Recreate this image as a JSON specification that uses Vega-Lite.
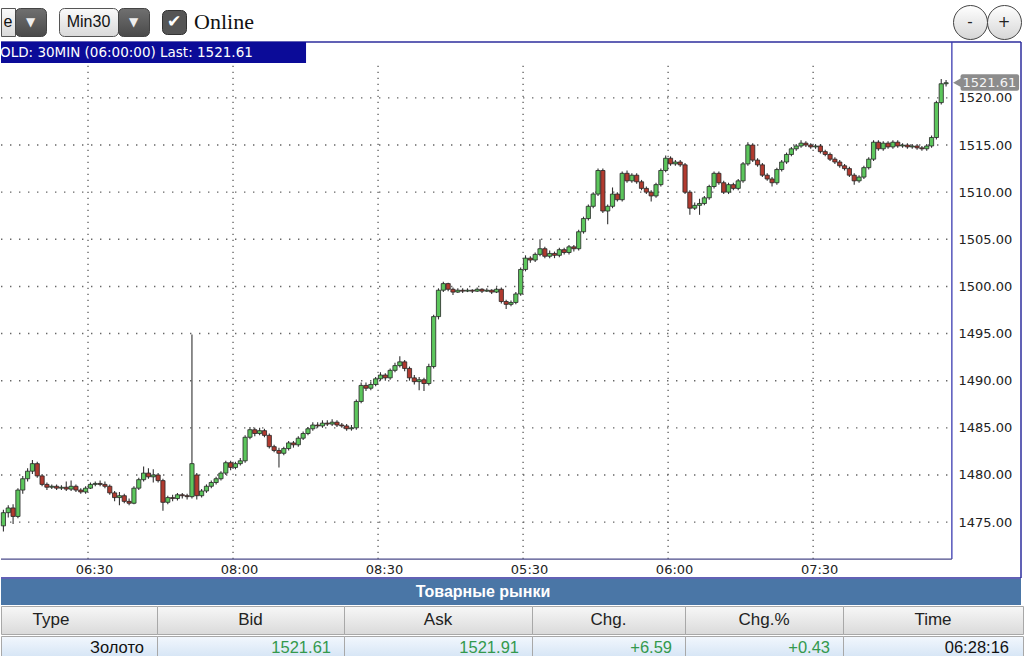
{
"$schema":"https://vega.github.io/schema/vega-lite/v6.json",
"padding":0,
"background":"white",
"bounds":"full",
"spacing":0,
"config":{"view":{"stroke":null},"concat":{"spacing":0},"text":{"font":"DejaVu Sans"},"axis":{"labelFont":"DejaVu Sans"}},
"datasets":{
"blank":[{}],
"quote":[{"Type":"Золото","Bid":"1521.61","Ask":"1521.91","Chg":"+6.59","ChgPct":"+0.43","Time":"06:28:16"}],
"candles":[
{"i":0,"o":1474.6,"h":1476.3,"l":1474.0,"c":1476.0},
{"i":1,"o":1476.0,"h":1476.8,"l":1475.5,"c":1476.5},
{"i":2,"o":1476.5,"h":1476.9,"l":1474.8,"c":1475.6},
{"i":3,"o":1475.6,"h":1478.6,"l":1475.4,"c":1478.4},
{"i":4,"o":1478.4,"h":1479.9,"l":1478.0,"c":1479.6},
{"i":5,"o":1479.6,"h":1480.7,"l":1479.3,"c":1480.4},
{"i":6,"o":1480.4,"h":1481.6,"l":1480.1,"c":1481.2},
{"i":7,"o":1481.2,"h":1481.4,"l":1479.7,"c":1479.9},
{"i":8,"o":1479.9,"h":1480.1,"l":1478.8,"c":1479.0},
{"i":9,"o":1479.0,"h":1479.2,"l":1478.4,"c":1478.7},
{"i":10,"o":1478.7,"h":1479.0,"l":1478.5,"c":1478.8},
{"i":11,"o":1478.8,"h":1479.0,"l":1478.4,"c":1478.6},
{"i":12,"o":1478.6,"h":1478.9,"l":1478.4,"c":1478.7},
{"i":13,"o":1478.7,"h":1479.3,"l":1478.3,"c":1478.5},
{"i":14,"o":1478.5,"h":1479.4,"l":1478.3,"c":1478.8},
{"i":15,"o":1478.8,"h":1479.0,"l":1478.2,"c":1478.4},
{"i":16,"o":1478.4,"h":1478.6,"l":1478.0,"c":1478.2},
{"i":17,"o":1478.2,"h":1478.8,"l":1478.0,"c":1478.6},
{"i":18,"o":1478.6,"h":1479.2,"l":1478.5,"c":1479.0},
{"i":19,"o":1479.0,"h":1479.3,"l":1478.8,"c":1479.1},
{"i":20,"o":1479.1,"h":1479.4,"l":1478.8,"c":1479.0},
{"i":21,"o":1479.0,"h":1479.3,"l":1478.6,"c":1478.8},
{"i":22,"o":1478.8,"h":1479.0,"l":1477.9,"c":1478.1},
{"i":23,"o":1478.1,"h":1478.3,"l":1477.2,"c":1477.6},
{"i":24,"o":1477.6,"h":1478.2,"l":1476.8,"c":1477.8},
{"i":25,"o":1477.8,"h":1478.0,"l":1477.0,"c":1477.2},
{"i":26,"o":1477.2,"h":1477.5,"l":1476.8,"c":1477.0},
{"i":27,"o":1477.0,"h":1478.8,"l":1476.9,"c":1478.6},
{"i":28,"o":1478.6,"h":1479.7,"l":1478.4,"c":1479.5},
{"i":29,"o":1479.5,"h":1480.9,"l":1479.3,"c":1480.2},
{"i":30,"o":1480.2,"h":1480.7,"l":1479.6,"c":1479.8},
{"i":31,"o":1479.8,"h":1480.6,"l":1479.2,"c":1480.0},
{"i":32,"o":1480.0,"h":1480.2,"l":1479.2,"c":1479.4},
{"i":33,"o":1479.4,"h":1479.6,"l":1476.2,"c":1477.1},
{"i":34,"o":1477.1,"h":1477.8,"l":1476.9,"c":1477.6},
{"i":35,"o":1477.6,"h":1477.9,"l":1477.2,"c":1477.5},
{"i":36,"o":1477.5,"h":1478.1,"l":1477.3,"c":1477.9},
{"i":37,"o":1477.9,"h":1478.1,"l":1477.5,"c":1477.8},
{"i":38,"o":1477.8,"h":1478.0,"l":1477.4,"c":1477.7},
{"i":39,"o":1477.7,"h":1494.9,"l":1477.5,"c":1481.2},
{"i":40,"o":1480.0,"h":1480.2,"l":1477.4,"c":1477.8},
{"i":41,"o":1477.8,"h":1478.5,"l":1477.6,"c":1478.3},
{"i":42,"o":1478.3,"h":1479.0,"l":1478.1,"c":1478.8},
{"i":43,"o":1478.8,"h":1479.4,"l":1478.6,"c":1479.2},
{"i":44,"o":1479.2,"h":1479.8,"l":1479.0,"c":1479.6},
{"i":45,"o":1479.6,"h":1480.4,"l":1479.4,"c":1480.2},
{"i":46,"o":1480.2,"h":1481.5,"l":1480.0,"c":1481.3},
{"i":47,"o":1481.3,"h":1481.5,"l":1480.5,"c":1480.8},
{"i":48,"o":1480.8,"h":1481.4,"l":1480.6,"c":1481.2},
{"i":49,"o":1481.2,"h":1481.8,"l":1481.0,"c":1481.5},
{"i":50,"o":1481.5,"h":1484.2,"l":1481.3,"c":1484.0},
{"i":51,"o":1484.0,"h":1485.1,"l":1483.8,"c":1484.8},
{"i":52,"o":1484.8,"h":1485.0,"l":1484.1,"c":1484.4},
{"i":53,"o":1484.4,"h":1485.0,"l":1484.2,"c":1484.7},
{"i":54,"o":1484.7,"h":1484.9,"l":1484.0,"c":1484.2},
{"i":55,"o":1484.2,"h":1484.4,"l":1482.8,"c":1483.0},
{"i":56,"o":1483.0,"h":1483.2,"l":1482.4,"c":1482.6},
{"i":57,"o":1482.6,"h":1482.9,"l":1480.8,"c":1482.3},
{"i":58,"o":1482.3,"h":1483.0,"l":1482.1,"c":1482.8},
{"i":59,"o":1482.8,"h":1483.6,"l":1482.6,"c":1483.4},
{"i":60,"o":1483.4,"h":1483.6,"l":1482.9,"c":1483.2},
{"i":61,"o":1483.2,"h":1484.1,"l":1483.0,"c":1483.9},
{"i":62,"o":1483.9,"h":1484.6,"l":1483.7,"c":1484.4},
{"i":63,"o":1484.4,"h":1485.1,"l":1484.2,"c":1484.9},
{"i":64,"o":1484.9,"h":1485.6,"l":1484.7,"c":1485.3},
{"i":65,"o":1485.3,"h":1485.6,"l":1485.0,"c":1485.2},
{"i":66,"o":1485.2,"h":1485.8,"l":1485.0,"c":1485.5},
{"i":67,"o":1485.5,"h":1485.8,"l":1485.2,"c":1485.4},
{"i":68,"o":1485.4,"h":1485.9,"l":1485.2,"c":1485.6},
{"i":69,"o":1485.6,"h":1485.8,"l":1485.1,"c":1485.3},
{"i":70,"o":1485.3,"h":1485.5,"l":1485.0,"c":1485.2},
{"i":71,"o":1485.2,"h":1485.4,"l":1484.7,"c":1484.9},
{"i":72,"o":1484.9,"h":1485.3,"l":1484.7,"c":1485.0},
{"i":73,"o":1485.0,"h":1488.0,"l":1484.8,"c":1487.8},
{"i":74,"o":1487.8,"h":1489.8,"l":1487.6,"c":1489.5},
{"i":75,"o":1489.5,"h":1489.8,"l":1488.9,"c":1489.2},
{"i":76,"o":1489.2,"h":1489.9,"l":1489.0,"c":1489.6},
{"i":77,"o":1489.6,"h":1490.4,"l":1489.4,"c":1490.2},
{"i":78,"o":1490.2,"h":1490.9,"l":1490.0,"c":1490.6},
{"i":79,"o":1490.6,"h":1490.8,"l":1490.0,"c":1490.3},
{"i":80,"o":1490.3,"h":1491.3,"l":1490.1,"c":1491.1},
{"i":81,"o":1491.1,"h":1491.9,"l":1490.9,"c":1491.6},
{"i":82,"o":1491.6,"h":1492.6,"l":1491.4,"c":1492.0},
{"i":83,"o":1492.0,"h":1492.2,"l":1491.0,"c":1491.3},
{"i":84,"o":1491.3,"h":1491.5,"l":1490.0,"c":1490.3},
{"i":85,"o":1490.3,"h":1490.6,"l":1489.6,"c":1489.9},
{"i":86,"o":1489.9,"h":1490.4,"l":1489.0,"c":1490.1},
{"i":87,"o":1490.1,"h":1490.3,"l":1488.9,"c":1489.7},
{"i":88,"o":1489.7,"h":1491.8,"l":1489.5,"c":1491.5},
{"i":89,"o":1491.5,"h":1497.0,"l":1491.3,"c":1496.8},
{"i":90,"o":1496.8,"h":1499.8,"l":1496.5,"c":1499.6},
{"i":91,"o":1499.6,"h":1500.5,"l":1499.4,"c":1500.3},
{"i":92,"o":1500.3,"h":1500.4,"l":1499.5,"c":1499.7},
{"i":93,"o":1499.7,"h":1499.9,"l":1499.1,"c":1499.4},
{"i":94,"o":1499.4,"h":1499.8,"l":1499.3,"c":1499.6},
{"i":95,"o":1499.6,"h":1499.8,"l":1499.3,"c":1499.5},
{"i":96,"o":1499.5,"h":1499.8,"l":1499.4,"c":1499.6},
{"i":97,"o":1499.6,"h":1499.7,"l":1499.3,"c":1499.5},
{"i":98,"o":1499.5,"h":1499.9,"l":1499.4,"c":1499.7},
{"i":99,"o":1499.7,"h":1499.8,"l":1499.3,"c":1499.5},
{"i":100,"o":1499.5,"h":1499.8,"l":1499.4,"c":1499.6},
{"i":101,"o":1499.6,"h":1499.7,"l":1499.2,"c":1499.4},
{"i":102,"o":1499.4,"h":1499.9,"l":1499.3,"c":1499.7},
{"i":103,"o":1499.7,"h":1499.9,"l":1498.2,"c":1498.4},
{"i":104,"o":1498.4,"h":1498.6,"l":1497.6,"c":1498.1},
{"i":105,"o":1498.1,"h":1498.5,"l":1497.9,"c":1498.3},
{"i":106,"o":1498.3,"h":1499.4,"l":1498.1,"c":1499.2},
{"i":107,"o":1499.2,"h":1502.0,"l":1499.0,"c":1501.8},
{"i":108,"o":1501.8,"h":1503.3,"l":1501.6,"c":1503.0},
{"i":109,"o":1503.0,"h":1503.2,"l":1502.5,"c":1502.8},
{"i":110,"o":1502.8,"h":1503.6,"l":1502.6,"c":1503.4},
{"i":111,"o":1503.4,"h":1505.0,"l":1503.2,"c":1504.0},
{"i":112,"o":1504.0,"h":1504.2,"l":1503.0,"c":1503.2},
{"i":113,"o":1503.2,"h":1503.8,"l":1503.0,"c":1503.5},
{"i":114,"o":1503.5,"h":1503.7,"l":1503.0,"c":1503.3},
{"i":115,"o":1503.3,"h":1504.1,"l":1503.1,"c":1503.9},
{"i":116,"o":1503.9,"h":1504.1,"l":1503.4,"c":1503.6},
{"i":117,"o":1503.6,"h":1504.4,"l":1503.4,"c":1504.2},
{"i":118,"o":1504.2,"h":1504.4,"l":1503.7,"c":1504.0},
{"i":119,"o":1504.0,"h":1506.0,"l":1503.8,"c":1505.8},
{"i":120,"o":1505.8,"h":1507.4,"l":1505.6,"c":1507.2},
{"i":121,"o":1507.2,"h":1508.7,"l":1507.0,"c":1508.5},
{"i":122,"o":1508.5,"h":1510.0,"l":1508.3,"c":1509.8},
{"i":123,"o":1509.8,"h":1512.5,"l":1509.6,"c":1512.3},
{"i":124,"o":1512.3,"h":1512.5,"l":1507.8,"c":1508.0},
{"i":125,"o":1508.0,"h":1508.7,"l":1506.6,"c":1508.5},
{"i":126,"o":1508.5,"h":1510.5,"l":1508.3,"c":1509.8},
{"i":127,"o":1509.8,"h":1510.0,"l":1509.0,"c":1509.2},
{"i":128,"o":1509.2,"h":1512.2,"l":1509.0,"c":1512.0},
{"i":129,"o":1512.0,"h":1512.3,"l":1511.0,"c":1511.2},
{"i":130,"o":1511.2,"h":1512.0,"l":1511.0,"c":1511.8},
{"i":131,"o":1511.8,"h":1512.0,"l":1510.9,"c":1511.1},
{"i":132,"o":1511.1,"h":1511.3,"l":1510.2,"c":1510.4},
{"i":133,"o":1510.4,"h":1510.6,"l":1509.8,"c":1510.0},
{"i":134,"o":1510.0,"h":1510.2,"l":1509.0,"c":1509.6},
{"i":135,"o":1509.6,"h":1511.0,"l":1509.4,"c":1510.8},
{"i":136,"o":1510.8,"h":1512.5,"l":1510.6,"c":1512.3},
{"i":137,"o":1512.3,"h":1513.9,"l":1512.1,"c":1513.6},
{"i":138,"o":1513.6,"h":1513.8,"l":1512.8,"c":1513.0},
{"i":139,"o":1513.0,"h":1513.4,"l":1512.8,"c":1513.2},
{"i":140,"o":1513.2,"h":1513.4,"l":1512.7,"c":1512.9},
{"i":141,"o":1512.9,"h":1513.1,"l":1509.8,"c":1510.0},
{"i":142,"o":1510.0,"h":1510.2,"l":1507.6,"c":1508.3},
{"i":143,"o":1508.3,"h":1508.9,"l":1508.1,"c":1508.6},
{"i":144,"o":1508.6,"h":1509.3,"l":1507.6,"c":1508.8},
{"i":145,"o":1508.8,"h":1509.6,"l":1508.6,"c":1509.4},
{"i":146,"o":1509.4,"h":1510.8,"l":1509.2,"c":1510.6},
{"i":147,"o":1510.6,"h":1512.2,"l":1510.4,"c":1512.0},
{"i":148,"o":1512.0,"h":1512.2,"l":1510.8,"c":1511.0},
{"i":149,"o":1511.0,"h":1511.2,"l":1509.8,"c":1510.0},
{"i":150,"o":1510.0,"h":1511.0,"l":1509.8,"c":1510.8},
{"i":151,"o":1510.8,"h":1511.0,"l":1510.2,"c":1510.4},
{"i":152,"o":1510.4,"h":1511.4,"l":1510.2,"c":1511.2},
{"i":153,"o":1511.2,"h":1513.2,"l":1511.0,"c":1513.0},
{"i":154,"o":1513.0,"h":1515.3,"l":1512.8,"c":1515.0},
{"i":155,"o":1515.0,"h":1515.2,"l":1513.2,"c":1513.4},
{"i":156,"o":1513.4,"h":1513.6,"l":1512.7,"c":1512.9},
{"i":157,"o":1512.9,"h":1513.1,"l":1511.6,"c":1511.8},
{"i":158,"o":1511.8,"h":1512.0,"l":1511.2,"c":1511.4},
{"i":159,"o":1511.4,"h":1511.6,"l":1510.6,"c":1511.0},
{"i":160,"o":1511.0,"h":1512.6,"l":1510.8,"c":1512.4},
{"i":161,"o":1512.4,"h":1513.4,"l":1512.2,"c":1513.2},
{"i":162,"o":1513.2,"h":1514.2,"l":1513.0,"c":1514.0},
{"i":163,"o":1514.0,"h":1514.8,"l":1513.8,"c":1514.6},
{"i":164,"o":1514.6,"h":1515.1,"l":1514.4,"c":1514.9},
{"i":165,"o":1514.9,"h":1515.5,"l":1514.7,"c":1515.2},
{"i":166,"o":1515.2,"h":1515.4,"l":1514.8,"c":1515.0},
{"i":167,"o":1515.0,"h":1515.2,"l":1514.6,"c":1514.8},
{"i":168,"o":1514.8,"h":1515.1,"l":1514.6,"c":1514.9},
{"i":169,"o":1514.9,"h":1515.1,"l":1514.1,"c":1514.3},
{"i":170,"o":1514.3,"h":1514.5,"l":1513.8,"c":1514.0},
{"i":171,"o":1514.0,"h":1514.2,"l":1513.3,"c":1513.5},
{"i":172,"o":1513.5,"h":1513.7,"l":1513.0,"c":1513.2},
{"i":173,"o":1513.2,"h":1513.4,"l":1512.6,"c":1512.8},
{"i":174,"o":1512.8,"h":1513.0,"l":1512.3,"c":1512.5},
{"i":175,"o":1512.5,"h":1512.7,"l":1511.6,"c":1511.8},
{"i":176,"o":1511.8,"h":1512.0,"l":1510.8,"c":1511.2},
{"i":177,"o":1511.2,"h":1511.8,"l":1511.0,"c":1511.6},
{"i":178,"o":1511.6,"h":1512.8,"l":1511.4,"c":1512.6},
{"i":179,"o":1512.6,"h":1513.7,"l":1512.4,"c":1513.5},
{"i":180,"o":1513.5,"h":1515.5,"l":1513.3,"c":1515.3},
{"i":181,"o":1515.3,"h":1515.5,"l":1514.4,"c":1514.6},
{"i":182,"o":1514.6,"h":1515.4,"l":1514.4,"c":1515.2},
{"i":183,"o":1515.2,"h":1515.4,"l":1514.6,"c":1514.8},
{"i":184,"o":1514.8,"h":1515.5,"l":1514.6,"c":1515.3},
{"i":185,"o":1515.3,"h":1515.5,"l":1514.7,"c":1514.9},
{"i":186,"o":1514.9,"h":1515.2,"l":1514.7,"c":1515.0},
{"i":187,"o":1515.0,"h":1515.2,"l":1514.6,"c":1514.8},
{"i":188,"o":1514.8,"h":1515.1,"l":1514.6,"c":1514.9},
{"i":189,"o":1514.9,"h":1515.1,"l":1514.5,"c":1514.7},
{"i":190,"o":1514.7,"h":1514.9,"l":1514.4,"c":1514.6},
{"i":191,"o":1514.6,"h":1515.1,"l":1514.4,"c":1514.9},
{"i":192,"o":1514.9,"h":1516.0,"l":1514.7,"c":1515.8},
{"i":193,"o":1515.8,"h":1519.7,"l":1515.6,"c":1519.5},
{"i":194,"o":1519.5,"h":1522.0,"l":1519.3,"c":1521.5},
{"i":195,"o":1521.5,"h":1521.9,"l":1521.2,"c":1521.61}
]},
"vconcat":[
{"width":1020,"height":3,"data":{"values":[{"t":""}]},"view":{"fill":"white"},"mark":{"type":"text","fontSize":1},"encoding":{"text":{"field":"t","type":"nominal"}}},
{"hconcat":[
 {"width":14,"height":28,"data":{"values":[{"t":"e"}]},"view":{"fill":{"gradient":"linear","x1":0,"y1":0,"x2":0,"y2":1,"stops":[{"offset":0,"color":"#fafafa"},{"offset":1,"color":"#d9d9d9"}]},"stroke":"#555"},"mark":{"type":"text","fontSize":16,"font":"Liberation Sans","fill":"#111"},"encoding":{"text":{"field":"t","type":"nominal"}}},
 {"width":31,"height":28,"data":{"values":[{"t":"▼"}]},"view":{"fill":{"gradient":"linear","x1":0,"y1":0,"x2":0,"y2":1,"stops":[{"offset":0,"color":"#707070"},{"offset":1,"color":"#4a4a4a"}]},"stroke":"#444","cornerRadius":5},"mark":{"type":"text","fontSize":12,"fill":"#eeeeee"},"encoding":{"text":{"field":"t","type":"nominal"}}},
 {"width":13,"height":28,"data":{"values":[{"t":""}]},"mark":{"type":"text","fontSize":1},"encoding":{"text":{"field":"t","type":"nominal"}}},
 {"width":59,"height":28,"data":{"values":[{"t":"Min30"}]},"view":{"fill":{"gradient":"linear","x1":0,"y1":0,"x2":0,"y2":1,"stops":[{"offset":0,"color":"#fafafa"},{"offset":1,"color":"#d9d9d9"}]},"stroke":"#555","cornerRadius":5},"mark":{"type":"text","fontSize":16,"font":"Liberation Sans","fill":"#111"},"encoding":{"text":{"field":"t","type":"nominal"}}},
 {"width":31,"height":28,"data":{"values":[{"t":"▼"}]},"view":{"fill":{"gradient":"linear","x1":0,"y1":0,"x2":0,"y2":1,"stops":[{"offset":0,"color":"#707070"},{"offset":1,"color":"#4a4a4a"}]},"stroke":"#444","cornerRadius":5},"mark":{"type":"text","fontSize":12,"fill":"#eeeeee"},"encoding":{"text":{"field":"t","type":"nominal"}}},
 {"width":13,"height":28,"data":{"values":[{"t":""}]},"mark":{"type":"text","fontSize":1},"encoding":{"text":{"field":"t","type":"nominal"}}},
 {"width":24,"height":24,"data":{"values":[{"t":"✔"}]},"view":{"fill":"#555555","stroke":"#333","cornerRadius":5},"mark":{"type":"text","fontSize":17,"fill":"white"},"encoding":{"text":{"field":"t","type":"nominal"}}},
 {"width":5,"height":28,"data":{"values":[{"t":""}]},"mark":{"type":"text","fontSize":1},"encoding":{"text":{"field":"t","type":"nominal"}}},
 {"width":66,"height":36,"data":{"values":[{"t":"Online"}]},"mark":{"type":"text","fontSize":22,"font":"Liberation Serif","fill":"#111"},"encoding":{"text":{"field":"t","type":"nominal"}}},
 {"width":696,"height":38,"data":{"values":[{"t":""}]},"view":{"fill":"white"},"mark":{"type":"text","fontSize":1},"encoding":{"text":{"field":"t","type":"nominal"}}},
 {"width":34,"height":34,"data":{"values":[{"t":"-"}]},"view":{"fill":{"gradient":"linear","x1":0,"y1":0,"x2":0,"y2":1,"stops":[{"offset":0,"color":"#ffffff"},{"offset":1,"color":"#d6d6d6"}]},"stroke":"#444","cornerRadius":17},"mark":{"type":"text","fontSize":15,"fill":"#222"},"encoding":{"text":{"field":"t","type":"nominal"}}},
 {"width":34,"height":34,"data":{"values":[{"t":"+"}]},"view":{"fill":{"gradient":"linear","x1":0,"y1":0,"x2":0,"y2":1,"stops":[{"offset":0,"color":"#ffffff"},{"offset":1,"color":"#d6d6d6"}]},"stroke":"#444","cornerRadius":17},"mark":{"type":"text","fontSize":15,"fill":"#222"},"encoding":{"text":{"field":"t","type":"nominal"}}}
],"spacing":0,"bounds":"flush","center":true},
{
 "width":1020,"height":536,
 "view":{"stroke":null,"fill":"white"},
 "layer":[
  {"data":{"values":[{"p":1475},{"p":1480},{"p":1485},{"p":1490},{"p":1495},{"p":1500},{"p":1505},{"p":1510},{"p":1515},{"p":1520}]},
   "mark":{"type":"rule","stroke":"#666666","strokeWidth":1.4,"strokeDash":[1.4,7.6]},
   "encoding":{
    "y":{"field":"p","type":"quantitative","title":null,"scale":{"domain":[1469.07,1525.93],"nice":false,"zero":false},
      "axis":{"orient":"right","offset":-69,"values":[1475,1480,1485,1490,1495,1500,1505,1510,1515,1520],"format":".2f","domain":false,"ticks":false,"grid":false,"labelPadding":6,"labelFontSize":13,"labelColor":"#222222","title":null}},
    "x":{"datum":-0.5,"type":"quantitative","title":null,"scale":{"domain":[-0.5,210.5],"nice":false,"zero":false,"padding":0},
      "axis":{"orient":"bottom","offset":-19,"values":[17.5,47.5,77.5,107.5,137.5,167.5],"labelExpr":"['06:30','08:00','08:30','05:30','06:00','07:30'][round((datum.value-17.5)/30)]","domain":false,"ticks":false,"grid":false,"labelPadding":4,"labelOffset":6,"labelFlush":false,"labelFontSize":13,"labelColor":"#222222","title":null}},
    "x2":{"datum":195.6}}},
  {"data":{"values":[{"t":17.5},{"t":47.5},{"t":77.5},{"t":107.5},{"t":137.5},{"t":167.5}]},
   "mark":{"type":"rule","stroke":"#666666","strokeWidth":1.4,"strokeDash":[1.4,4.6]},
   "encoding":{"x":{"field":"t","type":"quantitative","title":null},"y":{"datum":1471.08,"type":"quantitative"},"y2":{"datum":1523.6}}},
  {"data":{"name":"blank"},"mark":{"type":"rule","stroke":"#2d2d9c","strokeWidth":1.5},
   "encoding":{"y":{"datum":1525.93,"type":"quantitative"},"x":{"datum":-0.5,"type":"quantitative"},"x2":{"datum":210.5}}},
  {"data":{"name":"blank"},"mark":{"type":"rule","stroke":"#2d2d9c","strokeWidth":1.5},
   "encoding":{"y":{"datum":1469.07,"type":"quantitative"},"x":{"datum":-0.5,"type":"quantitative"},"x2":{"datum":210.5}}},
  {"data":{"name":"blank"},"mark":{"type":"rule","stroke":"#2d2d9c","strokeWidth":1.5},
   "encoding":{"x":{"datum":210.5,"type":"quantitative"},"y":{"datum":1469.07,"type":"quantitative"},"y2":{"datum":1525.93}}},
  {"data":{"name":"blank"},"mark":{"type":"rule","stroke":"#3a3ab0","strokeWidth":1.3},
   "encoding":{"x":{"datum":196.2,"type":"quantitative"},"y":{"datum":1471.08,"type":"quantitative"},"y2":{"datum":1525.93}}},
  {"data":{"name":"blank"},"mark":{"type":"rule","stroke":"#4a4a8a","strokeWidth":1.3},
   "encoding":{"y":{"datum":1471.08,"type":"quantitative"},"x":{"datum":-0.5,"type":"quantitative"},"x2":{"datum":196.2}}},
  {"data":{"name":"candles"},"mark":{"type":"rule","stroke":"#333333","strokeWidth":1.1},
   "encoding":{"x":{"field":"i","type":"quantitative","title":null},"y":{"field":"l","type":"quantitative","title":null},"y2":{"field":"h"}}},
  {"data":{"name":"candles"},"mark":{"type":"bar","size":4.2,"stroke":"#262626","strokeWidth":0.8},
   "encoding":{"x":{"field":"i","type":"quantitative","title":null},"y":{"field":"o","type":"quantitative","title":null},"y2":{"field":"c"},
    "fill":{"condition":{"test":"datum.c >= datum.o","value":"#5cc65c"},"value":"#b13a2f"}}},
  {"data":{"name":"blank"},"mark":{"type":"rect","fill":"#0b0b98"},
   "encoding":{"x":{"datum":-0.5,"type":"quantitative"},"x2":{"datum":62.6},"y":{"datum":1523.71,"type":"quantitative"},"y2":{"datum":1525.93}}},
  {"data":{"values":[{"t":"OLD: 30MIN (06:00:00) Last: 1521.61"}]},"mark":{"type":"text","align":"left","baseline":"middle","fill":"white","fontSize":13.5,"dx":-1},
   "encoding":{"x":{"datum":-0.5,"type":"quantitative"},"y":{"datum":1524.8,"type":"quantitative"},"text":{"field":"t","type":"nominal"}}},
  {"data":{"name":"blank"},"mark":{"type":"rect","fill":"#8c8c8c","cornerRadius":2},
   "encoding":{"x":{"datum":198.0,"type":"quantitative"},"x2":{"datum":210.1},"y":{"datum":1520.75,"type":"quantitative"},"y2":{"datum":1522.5}}},
  {"data":{"name":"blank"},"mark":{"type":"point","shape":"triangle-left","filled":true,"fill":"#8c8c8c","size":90,"opacity":1},
   "encoding":{"x":{"datum":197.3,"type":"quantitative"},"y":{"datum":1521.62,"type":"quantitative"}}},
  {"data":{"values":[{"t":"1521.61"}]},"mark":{"type":"text","align":"left","baseline":"middle","fill":"#f4f4f4","fontSize":13},
   "encoding":{"x":{"datum":198.4,"type":"quantitative"},"y":{"datum":1521.62,"type":"quantitative"},"text":{"field":"t","type":"nominal"}}}
 ]
},
{"hconcat":[
 {"width":964,"height":26,"data":{"values":[{"t":"Товарные рынки"}]},"view":{"fill":"#4a76a6"},"mark":{"type":"text","fill":"white","fontSize":16,"fontWeight":"bold","font":"Liberation Sans"},"encoding":{"text":{"field":"t","type":"nominal"}}},
 {"width":56,"height":26,"data":{"values":[{"t":""}]},"view":{"fill":"#4a76a6"},"mark":{"type":"text","fontSize":1},"encoding":{"text":{"field":"t","type":"nominal"}}}
],"spacing":0,"bounds":"flush"},
{"hconcat":[
 {"width":156,"height":28,"data":{"values":[{"t":"Type"}]},"view":{"fill":{"gradient":"linear","x1":0,"y1":0,"x2":0,"y2":1,"stops":[{"offset":0,"color":"#f7f7f7"},{"offset":1,"color":"#dadada"}]},"stroke":"#a8a8a8"},"mark":{"type":"text","fontSize":17,"font":"Liberation Sans","fill":"#222","dx":-28},"encoding":{"text":{"field":"t","type":"nominal"}}},
 {"width":187,"height":28,"data":{"values":[{"t":"Bid"}]},"view":{"fill":{"gradient":"linear","x1":0,"y1":0,"x2":0,"y2":1,"stops":[{"offset":0,"color":"#f7f7f7"},{"offset":1,"color":"#dadada"}]},"stroke":"#a8a8a8"},"mark":{"type":"text","fontSize":17,"font":"Liberation Sans","fill":"#222"},"encoding":{"text":{"field":"t","type":"nominal"}}},
 {"width":188,"height":28,"data":{"values":[{"t":"Ask"}]},"view":{"fill":{"gradient":"linear","x1":0,"y1":0,"x2":0,"y2":1,"stops":[{"offset":0,"color":"#f7f7f7"},{"offset":1,"color":"#dadada"}]},"stroke":"#a8a8a8"},"mark":{"type":"text","fontSize":17,"font":"Liberation Sans","fill":"#222"},"encoding":{"text":{"field":"t","type":"nominal"}}},
 {"width":153,"height":28,"data":{"values":[{"t":"Chg."}]},"view":{"fill":{"gradient":"linear","x1":0,"y1":0,"x2":0,"y2":1,"stops":[{"offset":0,"color":"#f7f7f7"},{"offset":1,"color":"#dadada"}]},"stroke":"#a8a8a8"},"mark":{"type":"text","fontSize":17,"font":"Liberation Sans","fill":"#222"},"encoding":{"text":{"field":"t","type":"nominal"}}},
 {"width":158,"height":28,"data":{"values":[{"t":"Chg.%"}]},"view":{"fill":{"gradient":"linear","x1":0,"y1":0,"x2":0,"y2":1,"stops":[{"offset":0,"color":"#f7f7f7"},{"offset":1,"color":"#dadada"}]},"stroke":"#a8a8a8"},"mark":{"type":"text","fontSize":17,"font":"Liberation Sans","fill":"#222"},"encoding":{"text":{"field":"t","type":"nominal"}}},
 {"width":180,"height":28,"data":{"values":[{"t":"Time"}]},"view":{"fill":{"gradient":"linear","x1":0,"y1":0,"x2":0,"y2":1,"stops":[{"offset":0,"color":"#f7f7f7"},{"offset":1,"color":"#dadada"}]},"stroke":"#a8a8a8"},"mark":{"type":"text","fontSize":17,"font":"Liberation Sans","fill":"#222"},"encoding":{"text":{"field":"t","type":"nominal"}}}
],"spacing":0,"bounds":"flush"},
{"hconcat":[
 {"width":156,"height":22,"data":{"name":"quote"},"view":{"fill":{"gradient":"linear","x1":0,"y1":0,"x2":0,"y2":1,"stops":[{"offset":0,"color":"#f2f7fd"},{"offset":1,"color":"#d4e4f5"}]},"stroke":"#a8a8a8"},"mark":{"type":"text","fontSize":16.5,"font":"Liberation Sans","fill":"#111","align":"right","dx":65,"dy":1},"encoding":{"text":{"field":"Type","type":"nominal"}}},
 {"width":187,"height":22,"data":{"name":"quote"},"view":{"fill":{"gradient":"linear","x1":0,"y1":0,"x2":0,"y2":1,"stops":[{"offset":0,"color":"#f2f7fd"},{"offset":1,"color":"#d4e4f5"}]},"stroke":"#a8a8a8"},"mark":{"type":"text","fontSize":16.5,"font":"Liberation Sans","fill":"#33994d","align":"right","dx":80.5,"dy":1},"encoding":{"text":{"field":"Bid","type":"nominal"}}},
 {"width":188,"height":22,"data":{"name":"quote"},"view":{"fill":{"gradient":"linear","x1":0,"y1":0,"x2":0,"y2":1,"stops":[{"offset":0,"color":"#f2f7fd"},{"offset":1,"color":"#d4e4f5"}]},"stroke":"#a8a8a8"},"mark":{"type":"text","fontSize":16.5,"font":"Liberation Sans","fill":"#33994d","align":"right","dx":81,"dy":1},"encoding":{"text":{"field":"Ask","type":"nominal"}}},
 {"width":153,"height":22,"data":{"name":"quote"},"view":{"fill":{"gradient":"linear","x1":0,"y1":0,"x2":0,"y2":1,"stops":[{"offset":0,"color":"#f2f7fd"},{"offset":1,"color":"#d4e4f5"}]},"stroke":"#a8a8a8"},"mark":{"type":"text","fontSize":16.5,"font":"Liberation Sans","fill":"#33994d","align":"right","dx":63.5,"dy":1},"encoding":{"text":{"field":"Chg","type":"nominal"}}},
 {"width":158,"height":22,"data":{"name":"quote"},"view":{"fill":{"gradient":"linear","x1":0,"y1":0,"x2":0,"y2":1,"stops":[{"offset":0,"color":"#f2f7fd"},{"offset":1,"color":"#d4e4f5"}]},"stroke":"#a8a8a8"},"mark":{"type":"text","fontSize":16.5,"font":"Liberation Sans","fill":"#33994d","align":"right","dx":66,"dy":1},"encoding":{"text":{"field":"ChgPct","type":"nominal"}}},
 {"width":180,"height":22,"data":{"name":"quote"},"view":{"fill":{"gradient":"linear","x1":0,"y1":0,"x2":0,"y2":1,"stops":[{"offset":0,"color":"#f2f7fd"},{"offset":1,"color":"#d4e4f5"}]},"stroke":"#a8a8a8"},"mark":{"type":"text","fontSize":16.5,"font":"Liberation Sans","fill":"#111","align":"right","dx":76,"dy":1},"encoding":{"text":{"field":"Time","type":"nominal"}}}
],"spacing":0,"bounds":"flush"}
]
}
